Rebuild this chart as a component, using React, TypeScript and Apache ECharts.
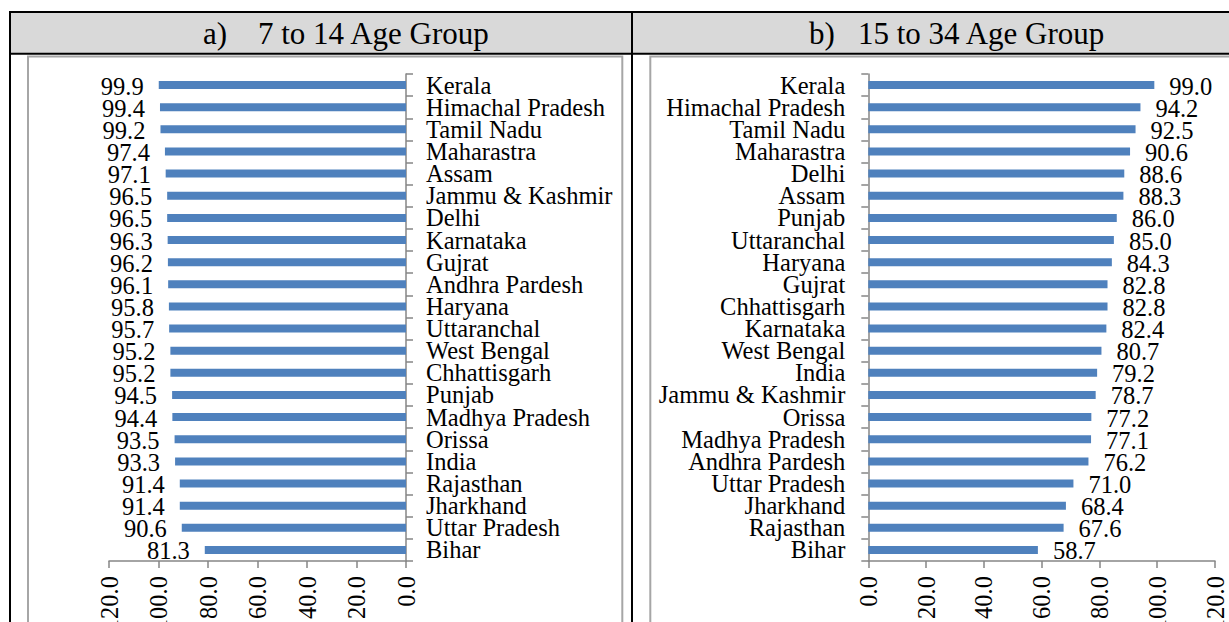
import React, { useEffect, useRef } from "react";
import * as echarts from "echarts";

// a) 7 to 14 Age Group
const statesA = [
  "Kerala", "Himachal Pradesh", "Tamil Nadu", "Maharastra", "Assam", "Jammu & Kashmir",
  "Delhi", "Karnataka", "Gujrat", "Andhra Pardesh", "Haryana", "Uttaranchal",
  "West Bengal", "Chhattisgarh", "Punjab", "Madhya Pradesh", "Orissa", "India",
  "Rajasthan", "Jharkhand", "Uttar Pradesh", "Bihar",
];
const valuesA = [
  99.9, 99.4, 99.2, 97.4, 97.1, 96.5, 96.5, 96.3, 96.2, 96.1, 95.8, 95.7,
  95.2, 95.2, 94.5, 94.4, 93.5, 93.3, 91.4, 91.4, 90.6, 81.3,
];

// b) 15 to 34 Age Group
const statesB = [
  "Kerala", "Himachal Pradesh", "Tamil Nadu", "Maharastra", "Delhi", "Assam",
  "Punjab", "Uttaranchal", "Haryana", "Gujrat", "Chhattisgarh", "Karnataka",
  "West Bengal", "India", "Jammu & Kashmir", "Orissa", "Madhya Pradesh", "Andhra Pardesh",
  "Uttar Pradesh", "Jharkhand", "Rajasthan", "Bihar",
];
const valuesB = [
  99.0, 94.2, 92.5, 90.6, 88.6, 88.3, 86.0, 85.0, 84.3, 82.8, 82.8, 82.4,
  80.7, 79.2, 78.7, 77.2, 77.1, 76.2, 71.0, 68.4, 67.6, 58.7,
];

const titleA = ["a)", "7 to 14 Age Group"];
const titleB = ["b)", "15 to 34 Age Group"];
const axisMin = 0;
const axisMax = 120;
const axisStep = 20;

const W = 1229;
const H = 622;

export default function App() {
  const ref = useRef<HTMLDivElement>(null);
  useEffect(() => {
    const chart = echarts.init(ref.current!, null, { renderer: "svg", width: W, height: H });
    const font = "'Liberation Serif', 'Times New Roman', serif";
    const axisGrey = "#868686";
    const frameGrey = "#a6a6a6";
    const fs = 24.5;

    const valueAxis = (gridIndex: number, inverse: boolean) => ({
      type: "value",
      gridIndex,
      min: axisMin,
      max: axisMax,
      interval: axisStep,
      inverse,
      axisLine: { show: true, lineStyle: { color: axisGrey, width: 1.5 } },
      axisTick: { show: true, length: 7, lineStyle: { color: axisGrey, width: 1.5 } },
      splitLine: { show: false },
      axisLabel: {
        rotate: 90,
        margin: 15,
        fontSize: fs,
        fontFamily: font,
        color: "#000",
        formatter: (v: number) => v.toFixed(1),
      },
    });

    const catAxis = (gridIndex: number, data: string[], position: string, margin: number) => ({
      type: "category",
      gridIndex,
      data,
      inverse: true,
      position,
      axisLine: { show: true, lineStyle: { color: axisGrey, width: 1.5 } },
      axisTick: { show: true, length: 7, lineStyle: { color: axisGrey, width: 1.5 } },
      axisLabel: {
        interval: 0,
        margin,
        fontSize: fs,
        lineHeight: 22,
        fontFamily: font,
        color: "#000",
      },
    });

    const labelStyle = (position: string) => ({
      show: true,
      position,
      distance: 15,
      offset: [0, 1],
      fontSize: fs,
      lineHeight: 22,
      fontFamily: font,
      color: "#000",
      formatter: (p: any) => Number(p.value).toFixed(1),
    });

    const lineEl = (x1: number, y1: number, x2: number, y2: number, w: number, c = "#000") => ({
      type: "line",
      shape: { x1, y1, x2, y2 },
      style: { stroke: c, lineWidth: w },
      silent: true,
    });
    const textEl = (text: string, x: number) => ({
      type: "text",
      x,
      y: 33,
      style: { text, fontSize: 31, fontFamily: font, fill: "#000", align: "left", verticalAlign: "middle" },
      silent: true,
    });

    chart.setOption({
      animation: false,
      backgroundColor: "#fff",
      grid: [
        { left: 109, width: 406 - 109, top: 74, height: 487, outerBoundsMode: "none", containLabel: false },
        { left: 868.3, width: 1215 - 868.3, top: 74, height: 487, outerBoundsMode: "none", containLabel: false },
      ],
      xAxis: [valueAxis(0, true), valueAxis(1, false)],
      yAxis: [catAxis(0, statesA, "right", 20), catAxis(1, statesB, "left", 23)],
      series: [
        {
          type: "bar",
          xAxisIndex: 0,
          yAxisIndex: 0,
          data: valuesA,
          barWidth: 8,
          itemStyle: { color: "#4f81bd" },
          label: labelStyle("left"),
        },
        {
          type: "bar",
          xAxisIndex: 1,
          yAxisIndex: 1,
          data: valuesB,
          barWidth: 8,
          itemStyle: { color: "#4f81bd" },
          label: labelStyle("right"),
        },
      ],
      graphic: [
        {
          type: "rect",
          shape: { x: 10, y: 12, width: W, height: 41.7 },
          style: { fill: "#d9d9d9" },
          silent: true,
        },
        {
          type: "rect",
          shape: { x: 28, y: 56.5, width: 622.3 - 28, height: 700 },
          style: { fill: "none", stroke: frameGrey, lineWidth: 2 },
          silent: true,
        },
        {
          type: "rect",
          shape: { x: 650.3, y: 56.5, width: 1000, height: 700 },
          style: { fill: "none", stroke: frameGrey, lineWidth: 2 },
          silent: true,
        },
        lineEl(9, 12, W + 5, 12, 2),
        lineEl(9, 53.7, W + 5, 53.7, 2),
        lineEl(10, 11, 10, H + 5, 2),
        lineEl(632, 11, 632, H + 5, 2),
        textEl(titleA[0], 203),
        textEl(titleA[1], 258),
        textEl(titleB[0], 809),
        textEl(titleB[1], 858),
      ],
    });
    return () => chart.dispose();
  }, []);
  return (
    <div
      ref={ref}
      style={{ position: "absolute", left: 0, top: 0, width: W, height: H }}
    />
  );
}
